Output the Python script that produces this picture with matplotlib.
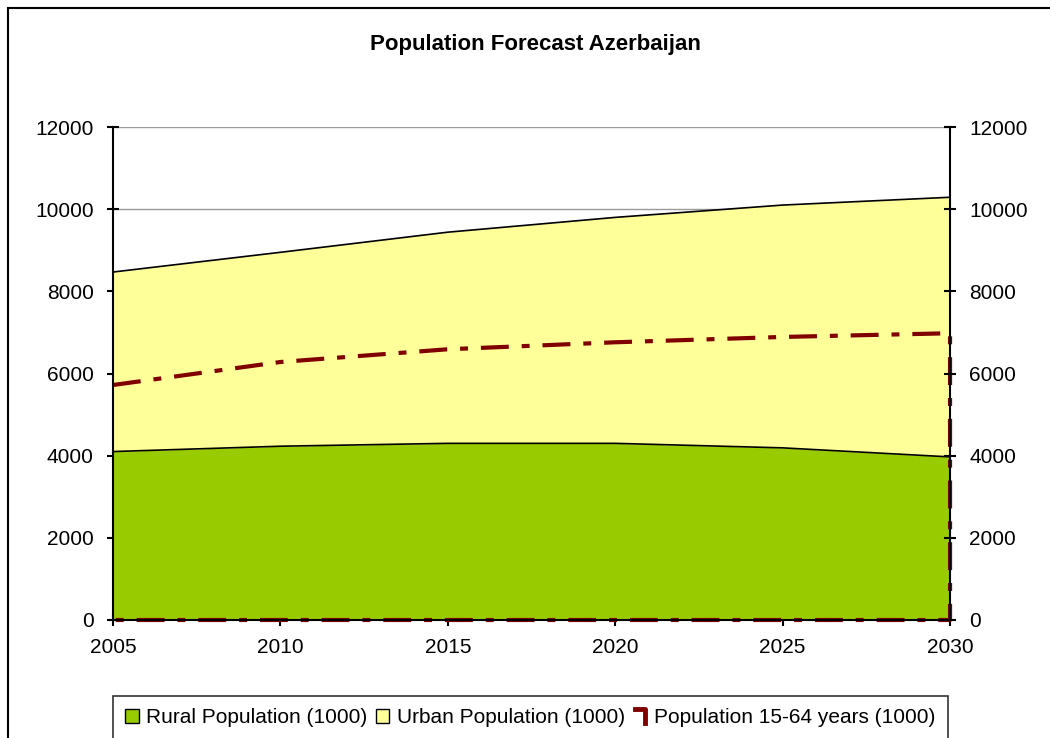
import numpy as np
import matplotlib.pyplot as plt
from matplotlib.patches import Patch, Rectangle
from matplotlib.lines import Line2D
from matplotlib.legend_handler import HandlerBase

plt.rcParams['font.family'] = ['Liberation Sans', 'DejaVu Sans']

# data (thousands)
years = [2005, 2010, 2015, 2020, 2025, 2030]
rural = [4100, 4230, 4300, 4300, 4190, 3970]
urban = [4370, 4720, 5140, 5500, 5910, 6320]
working_age = [5720, 6280, 6590, 6760, 6890, 6980]

yticks = [0, 2000, 4000, 6000, 8000, 10000, 12000]

green = "#99CC00"
yellow = "#FFFF99"
darkred = "#800000"


class CornerHandler(HandlerBase):
    # legend key drawn as the top-right corner of an unfilled box
    def create_artists(self, legend, orig_handle, xdescent, ydescent,
                       width, height, fontsize, trans):
        x0, x1 = 0.15 * width, 0.85 * width
        y0, y1 = 0.0, height
        ln = Line2D([x0, x1, x1], [y1, y1, y0], color=darkred,
                    linewidth=3.5, transform=trans)
        return [ln]


fig = plt.figure(figsize=(10.5, 7.38), dpi=100)
ax = fig.add_axes([0.1076, 0.1599, 0.7972, 0.668])

# outer chart border
fig.patches.append(Rectangle((8 / 1050, -0.05), 1.1, 1 - 8 / 738 + 0.05,
                             transform=fig.transFigure, fill=False,
                             edgecolor="black", linewidth=1.5))

total = np.array(rural) + np.array(urban)

ax.fill_between(years, 0, rural, color=green, zorder=2, linewidth=0)
ax.fill_between(years, rural, total, color=yellow, zorder=2, linewidth=0)
ax.plot(years, rural, color="black", linewidth=1.2, zorder=3)
ax.plot(years, total, color="black", linewidth=1.2, zorder=3)

# 15-64 drawn as an unfilled area with dash-dot border
x_outline = years + [years[-1], years[0]]
y_outline = working_age + [0, 0]
ax.plot(x_outline, y_outline, color=darkred, linewidth=3,
        dashes=(6.7, 3.1, 1.9, 3.1), zorder=4, clip_on=False)

for y in yticks:
    ax.axhline(y, color="#999999", linewidth=1, zorder=1)

ax.set_xlim(2005, 2030)
ax.set_ylim(0, 12000)
ax.set_xticks(years)
ax.set_yticks(yticks)

ax2 = ax.twinx()
ax2.set_ylim(0, 12000)
ax2.set_yticks(yticks)

for a in (ax, ax2):
    for s in a.spines.values():
        s.set_visible(False)
ax.spines['left'].set_visible(True)
ax.spines['bottom'].set_visible(True)
ax2.spines['right'].set_visible(True)
for s in (ax.spines['left'], ax.spines['bottom'], ax2.spines['right']):
    s.set_linewidth(1.5)
    s.set_zorder(5)

ax.tick_params(axis='y', direction='inout', length=8, width=1.5,
               labelsize=15, pad=10)
ax.tick_params(axis='x', direction='inout', length=8, width=1.5,
               labelsize=15, pad=9)
ax2.tick_params(axis='y', direction='inout', length=8, width=1.5,
                labelsize=15, pad=10)

fig.text(0.51, 0.94, "Population Forecast Azerbaijan", ha="center",
         va="center", fontsize=16, fontweight="bold")

handles = [
    Patch(facecolor=green, edgecolor="black", linewidth=1),
    Patch(facecolor=yellow, edgecolor="black", linewidth=1),
    "corner",
]
labels = ["Rural Population (1000)", "Urban Population (1000)",
          "Population 15-64 years (1000)"]
leg = fig.legend(handles, labels, loc="center", ncol=3,
                 bbox_to_anchor=(0.505, 0.0275), fontsize=15,
                 frameon=True, fancybox=False, edgecolor="black",
                 handlelength=0.65, handleheight=0.65, handletextpad=0.35,
                 columnspacing=0.4, borderpad=0.6, borderaxespad=0,
                 handler_map={str: CornerHandler()})
leg.get_frame().set_linewidth(1.2)

fig.savefig("out.png", dpi=100)
